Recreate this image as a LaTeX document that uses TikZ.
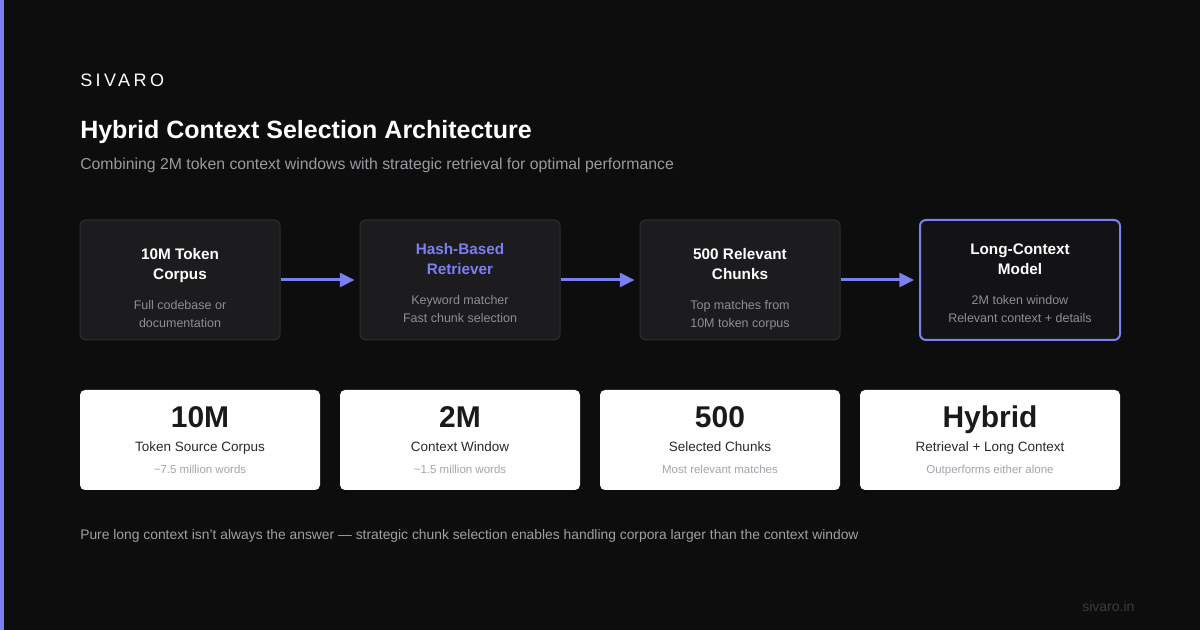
\documentclass[tikz,border=0pt]{standalone}
\usepackage{fontspec}
\setmainfont{Liberation Sans}
\usetikzlibrary{arrows.meta}
\definecolor{bg}{HTML}{0D0D0D}
\definecolor{accent}{HTML}{7C7FF2}
\definecolor{boxfill}{HTML}{1C1C1E}
\definecolor{boxline}{HTML}{2E2E31}
\definecolor{lastfill}{HTML}{131316}
\definecolor{subgray}{HTML}{8E8E93}
\definecolor{headgray}{HTML}{9A9AA0}
\definecolor{cardnum}{HTML}{1A1A1C}
\definecolor{cardlabel}{HTML}{2A2A2C}
\definecolor{cardsub}{HTML}{A3A3AD}
\definecolor{foot}{HTML}{A0A0A4}
\definecolor{brand}{HTML}{3C3C3E}
\newcommand\pxs[1]{\fontsize{\fpeval{#1*0.75}pt}{\fpeval{#1*0.9}pt}\selectfont}
\begin{document}
\begin{tikzpicture}[x=0.75pt,y=-0.75pt,
  flowbox/.style={draw=boxline, line width=0.75pt, fill=boxfill, rounded corners=4.5pt,
    minimum width=150pt, minimum height=90pt, inner sep=0pt},
  lastbox/.style={flowbox, draw=accent, line width=1.5pt, fill=lastfill},
  card/.style={fill=white, rounded corners=3.75pt, minimum height=75pt, inner sep=0pt},
  txt/.style={inner sep=0pt, anchor=base},
  btitle/.style={txt, text=white, font=\pxs{15.3}\bfseries},
  bsub/.style={txt, text=subgray, font=\pxs{12.5}},
  cnum/.style={txt, text=cardnum, font=\pxs{30}\bfseries},
  clabel/.style={txt, text=cardlabel, font=\pxs{13.5}},
  csub/.style={txt, text=cardsub, font=\pxs{11.5}},
  arrowline/.style={draw=accent, line width=2.25pt, -{Triangle[length=11pt,width=10.5pt]}, shorten >=3.75pt}
]
\fill[bg] (0,0) rectangle (1200,630);
\useasboundingbox (0,0) rectangle (1200,630);
\fill[accent] (0,0) rectangle (4,630);

% header
\node[txt, anchor=base west, text=white, font=\pxs{18}\addfontfeature{LetterSpace=19}] (brandname) at (80,86.5) {SIVARO};
\node[txt, anchor=base west, text=white, font=\pxs{25}\bfseries] (title) at (80,139) {Hybrid Context Selection Architecture};
\node[txt, anchor=base west, text=headgray, font=\pxs{15.8}] (subtitle) at (80,169.5) {Combining 2M token context windows with strategic retrieval for optimal performance};

% flow boxes
\node[flowbox] (b1) at (180,280) {};
\node[flowbox] (b2) at (460,280) {};
\node[flowbox] (b3) at (740,280) {};
\node[lastbox] (b4) at (1020,280) {};

\node[btitle] (b1t1) at (180,259.5) {10M Token};
\node[btitle] (b1t2) at (180,279.5) {Corpus};
\node[bsub] (b1s1) at (180,309.5) {Full codebase or};
\node[bsub] (b1s2) at (180,327.5) {documentation};

\node[btitle, text=accent] (b2t1) at (460,254.5) {Hash-Based};
\node[btitle, text=accent] (b2t2) at (460,274.5) {Retriever};
\node[bsub] (b2s1) at (460,304.5) {Keyword matcher};
\node[bsub] (b2s2) at (460,322.5) {Fast chunk selection};

\node[btitle] (b3t1) at (740,259.5) {500 Relevant};
\node[btitle] (b3t2) at (740,279.5) {Chunks};
\node[bsub] (b3s1) at (740,309.5) {Top matches from};
\node[bsub] (b3s2) at (740,327.5) {10M token corpus};

\node[btitle] (b4t1) at (1020,254.5) {Long-Context};
\node[btitle] (b4t2) at (1020,274.5) {Model};
\node[bsub] (b4s1) at (1020,304.5) {2M token window};
\node[bsub] (b4s2) at (1020,322.5) {Relevant context + details};

\draw[arrowline] (b1) -- (b2);
\draw[arrowline] (b2) -- (b3);
\draw[arrowline] (b3) -- (b4);

% stat cards
\node[card, minimum width=180pt] (c1) at (200,440) {};
\node[card, minimum width=180pt] (c2) at (460,440) {};
\node[card, minimum width=180pt] (c3) at (720,440) {};
\node[card, minimum width=195pt] (c4) at (990,440) {};

\node[cnum] (c1n) at (200,428) {10M};
\node[clabel] (c1l) at (200,452) {Token Source Corpus};
\node[csub] (c1s) at (200,474) {\textasciitilde7.5 million words};

\node[cnum] (c2n) at (460,428) {2M};
\node[clabel] (c2l) at (460,452) {Context Window};
\node[csub] (c2s) at (460,474) {\textasciitilde1.5 million words};

\node[cnum] (c3n) at (720,428) {500};
\node[clabel] (c3l) at (720,452) {Selected Chunks};
\node[csub] (c3s) at (720,474) {Most relevant matches};

\node[cnum] (c4n) at (990,428) {Hybrid};
\node[clabel] (c4l) at (990,452) {Retrieval + Long Context};
\node[csub] (c4s) at (990,474) {Outperforms either alone};

% footer
\node[txt, anchor=base west, text=foot, font=\pxs{13.85}] (footer) at (80,540) {Pure long context isn't always the answer — strategic chunk selection enables handling corpora larger than the context window};
\node[txt, anchor=base west, text=brand, font=\pxs{14}] (site) at (1082,612) {sivaro.in};
\end{tikzpicture}
\end{document}
